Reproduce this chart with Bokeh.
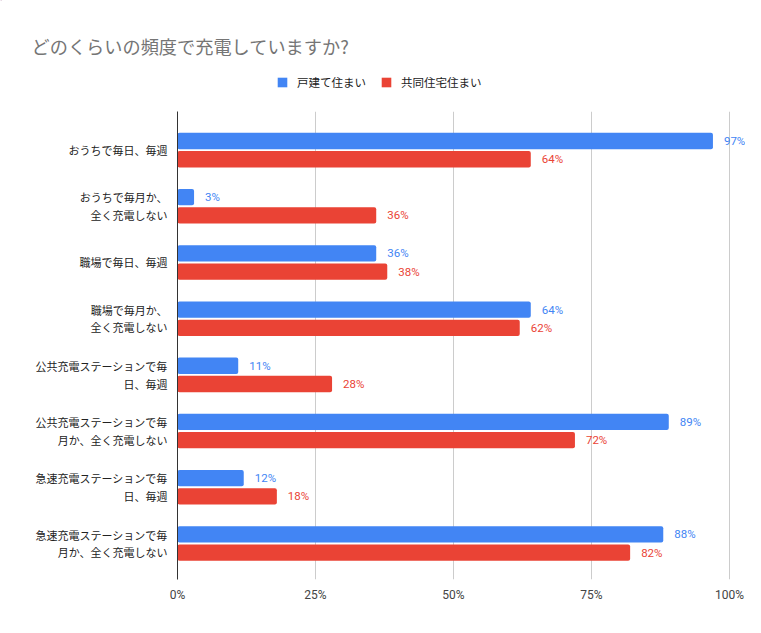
from bokeh.plotting import figure
from bokeh.layouts import column
from bokeh.models import ColumnDataSource, Range1d, FixedTicker, Legend, LegendItem, LabelSet
from bokeh.core.properties import value
from bokeh.embed import file_html
from bokeh.resources import INLINE

categories = [
    "おうちで毎日、毎週",
    "おうちで毎月か、\n全く充電しない",
    "職場で毎日、毎週",
    "職場で毎月か、\n全く充電しない",
    "公共充電ステーションで毎\n日、毎週",
    "公共充電ステーションで毎\n月か、全く充電しない",
    "急速充電ステーションで毎\n日、毎週",
    "急速充電ステーションで毎\n月か、全く充電しない",
]
detached = [97, 3, 36, 64, 11, 89, 12, 88]
apartment = [64, 36, 38, 62, 28, 72, 18, 82]
series_names = ["戸建て住まい", "共同住宅住まい"]
title_text = "どのくらいの頻度で充電していますか?"
x_ticks = [0, 25, 50, 75, 100]

BLUE = "#4285f4"
RED = "#ea4335"
JP = "Noto Sans CJK JP"

W = 745
HEADER_H = 111
FRAME_L = 177
FRAME_W = 552
FRAME_H = 468
BOTTOM = 38

# ---------- header: title + legend ----------
hdr = figure(width=W, height=HEADER_H, output_backend="svg", toolbar_location=None,
             x_range=Range1d(0, W), y_range=Range1d(HEADER_H, 0),
             min_border=0, title_location=None,
             x_axis_location=None, y_axis_location=None)
hdr.frame_align = False
hdr.grid.visible = False
hdr.outline_line_color = None
hdr.text(x=[31], y=[45], text=[title_text], text_font=value(JP),
         text_font_size="18.2px", text_color="#757575", text_baseline="middle")
d1 = hdr.hbar(y=[-500], right=[1], left=0, height=1, fill_color=BLUE, line_color=None)
d2 = hdr.hbar(y=[-500], right=[1], left=0, height=1, fill_color=RED, line_color=None)
legend = Legend(items=[LegendItem(label=series_names[0], renderers=[d1]),
                       LegendItem(label=series_names[1], renderers=[d2])],
                orientation="horizontal", location=(276, 21),
                glyph_width=12, glyph_height=12, label_height=12,
                label_standoff=9, spacing=14, padding=0, margin=0,
                border_line_color=None, background_fill_alpha=0,
                label_text_font=JP, label_text_font_size="11.5px",
                label_text_color="#222222")
hdr.add_layout(legend, "center")

# ---------- main chart ----------
idx = list(range(len(categories)))
src_a = ColumnDataSource(dict(y=[i - 0.16 for i in idx], v=detached,
                              t=[f"{v}%" for v in detached]))
src_b = ColumnDataSource(dict(y=[i + 0.165 for i in idx], v=apartment,
                              t=[f"{v}%" for v in apartment]))

x_end = 100 * (W - FRAME_L) / FRAME_W
p = figure(width=W, height=FRAME_H + BOTTOM, output_backend="svg", toolbar_location=None,
           x_range=Range1d(0, x_end), y_range=Range1d(7.644, -0.685),
           min_border_left=FRAME_L, min_border_right=0, min_border_bottom=BOTTOM,
           min_border_top=0, title_location=None)
p.frame_align = False
p.outline_line_color = None

r1 = p.hbar(y="y", right="v", left=0, height=0.29, source=src_a,
            fill_color=BLUE, line_color=None, border_radius=2)
r2 = p.hbar(y="y", right="v", left=0, height=0.29, source=src_b,
            fill_color=RED, line_color=None, border_radius=2)

for src, col in ((src_a, BLUE), (src_b, RED)):
    p.add_layout(LabelSet(x="v", y="y", text="t", source=src, x_offset=11,
                          text_baseline="middle", text_font=value("Roboto"),
                          text_font_size="11.5px", text_color=col))

p.xaxis.ticker = FixedTicker(ticks=x_ticks)
p.xaxis.major_label_overrides = {t: f"{t}%" for t in x_ticks}
p.xaxis.axis_line_color = None
p.xaxis.major_tick_line_color = None
p.xaxis.minor_tick_line_color = None
p.xaxis.major_label_text_font = "Roboto"
p.xaxis.major_label_text_font_size = "12px"
p.xaxis.major_label_text_color = "#444444"
p.xaxis.major_label_standoff = 2

p.yaxis.ticker = FixedTicker(ticks=idx)
p.yaxis.major_label_overrides = {i: c for i, c in enumerate(categories)}
p.yaxis.axis_line_color = "#333333"
p.yaxis.major_tick_line_color = None
p.yaxis.minor_tick_line_color = None
p.yaxis.major_label_text_font = JP
p.yaxis.major_label_text_font_size = "11px"
p.yaxis.major_label_text_color = "#222222"
p.yaxis.major_label_text_line_height = 1.1
p.yaxis.major_label_standoff = 4

p.xgrid.grid_line_color = "#cccccc"
p.xgrid.ticker = FixedTicker(ticks=x_ticks)
p.ygrid.grid_line_color = None

layout = column(hdr, p, spacing=0)
open("out.html", "w").write(file_html(layout, INLINE))
